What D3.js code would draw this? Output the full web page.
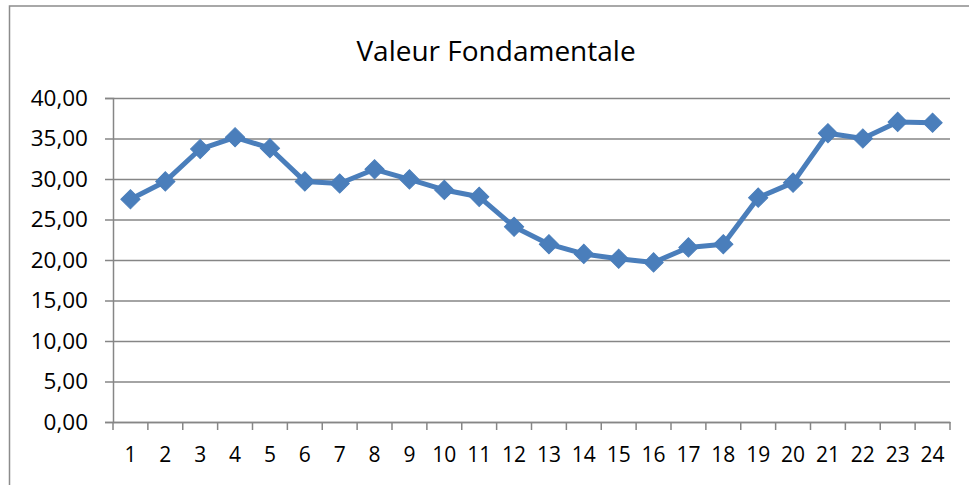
<!doctype html>
<html>
  <head>
    <meta charset="utf-8">
    <script src="https://d3js.org/d3.v7.min.js"></script>
    <style>
      html, body { margin: 0; padding: 0; background: #fff; overflow: hidden; }
      svg { display: block; }
      .grid line { stroke: #868686; stroke-width: 1.5; }
      .grid path { stroke-width: 0; }
    </style>
  </head>
  <body>
    <script>
    // data
    var categories = ['1','2','3','4','5','6','7','8','9','10','11','12',
                      '13','14','15','16','17','18','19','20','21','22','23','24'];
    var values = [27.5, 29.7, 33.7, 35.15, 33.8, 29.7, 29.45, 31.2, 29.95, 28.65, 27.8, 24.1,
                  21.95, 20.75, 20.15, 19.7, 21.55, 21.95, 27.7, 29.55, 35.65, 35.0, 37.05, 36.95];
    var yTicks = [0, 5, 10, 15, 20, 25, 30, 35, 40];
    var title = 'Valeur Fondamentale';

    var width = 969;
    var height = 485;

    var margin = { top: 98, right: 19, bottom: 63, left: 113 };
    var innerWidth = width - margin.left - margin.right;
    var innerHeight = height - margin.top - margin.bottom;

    var svg = d3.select('body')
              .append('svg')
              .attr('width', width)
              .attr('height', height)
              .attr('font-family', '"Open Sans", sans-serif');

    // chart area border, only left and top edges are in view
    svg.append('path')
      .attr('d', 'M9.5,' + height + 'V6H' + width)
      .attr('fill', 'none')
      .attr('stroke', '#8c8c8c')
      .attr('stroke-width', 1.5);

    var g = svg.append('g')
            .attr('transform', 'translate(' + margin.left + ',' + margin.top + ')');

    var x = d3.scaleBand()
            .domain(categories)
            .range([0, innerWidth]);

    var y = d3.scaleLinear()
            .domain([0, 40])
            .range([innerHeight, 0]);

    // gridlines
    g.append('g')
      .attr('class', 'grid')
      .call(d3.axisLeft(y).tickValues(yTicks).tickSize(-innerWidth).tickFormat(''));

    // y axis
    var yAxis = g.append('g')
      .call(d3.axisLeft(y).tickValues(yTicks).tickSize(8).tickPadding(17)
        .tickFormat(function(d) { return d3.format('.2f')(d).replace('.', ','); }))
      .attr('font-family', '"Open Sans", sans-serif')
      .attr('font-size', 22.5);
    yAxis.select('.domain').attr('stroke', '#868686').attr('stroke-width', 1.5);
    yAxis.selectAll('.tick line').attr('stroke', '#868686').attr('stroke-width', 1.5);

    // x axis, ticks on category boundaries
    var xAxis = g.append('g')
      .attr('transform', 'translate(0,' + innerHeight + ')')
      .call(d3.axisBottom(x).tickSize(0).tickPadding(25))
      .attr('font-family', '"Open Sans", sans-serif')
      .attr('font-size', 21);
    xAxis.select('.domain').attr('stroke', '#868686').attr('stroke-width', 1.5);

    var bounds = categories.map(function(c) { return x(c); }).concat([innerWidth]);
    xAxis.selectAll('.bound')
      .data(bounds)
      .enter()
      .append('line')
      .attr('class', 'bound')
      .attr('x1', function(d) { return d; })
      .attr('x2', function(d) { return d; })
      .attr('y1', 0)
      .attr('y2', 8)
      .attr('stroke', '#868686')
      .attr('stroke-width', 1.5);

    // series line
    var line = d3.line()
            .x(function(d, i) { return x(categories[i]) + x.bandwidth() / 2; })
            .y(function(d) { return y(d); });

    g.append('path')
      .datum(values)
      .attr('fill', 'none')
      .attr('stroke', '#4a7ebb')
      .attr('stroke-width', 5)
      .attr('stroke-linejoin', 'round')
      .attr('d', line);

    // diamond markers
    var diamond = d3.symbol().type(d3.symbolSquare).size(185);
    g.selectAll('.marker')
      .data(values)
      .enter()
      .append('path')
      .attr('class', 'marker')
      .attr('d', diamond)
      .attr('fill', '#4a7ebb')
      .attr('stroke', '#4a7ebb')
      .attr('stroke-width', 1)
      .attr('transform', function(d, i) {
        return 'translate(' + (x(categories[i]) + x.bandwidth() / 2) + ',' + y(d) + ') rotate(45)';
      });

    // title
    svg.append('text')
      .attr('x', 496)
      .attr('y', 61)
      .attr('text-anchor', 'middle')
      .attr('font-size', 28)
      .attr('fill', '#000')
      .text(title);
    </script>
  </body>
</html>
